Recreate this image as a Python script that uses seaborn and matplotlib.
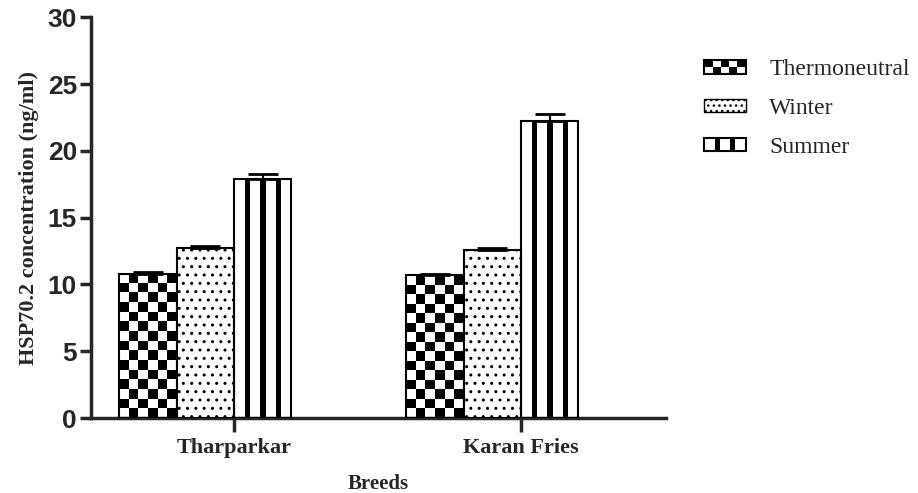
"""HSP70.2 concentration by breed and season, GraphPad-style patterned bars."""

import matplotlib

matplotlib.use("Agg")

import matplotlib.pyplot as plt
import numpy as np
import pandas as pd
import seaborn as sns
from matplotlib.legend_handler import HandlerBase
from matplotlib.patches import Patch, Rectangle

BREEDS = ["Tharparkar", "Karan Fries"]
SEASONS = ["Thermoneutral", "Winter", "Summer"]
THERMONEUTRAL = [10.8, 10.7]
WINTER = [12.7, 12.6]
SUMMER = [17.9, 22.2]
THERMONEUTRAL_SEM = [0.15, 0.12]
WINTER_SEM = [0.15, 0.12]
SUMMER_SEM = [0.35, 0.55]
Y_TICKS = [0, 5, 10, 15, 20, 25, 30]

SERIF = ["Liberation Serif", "DejaVu Serif"]
SANS = ["Liberation Sans", "DejaVu Sans"]

STRIPES = np.array([[0, 0, 1, 0, 0, 1, 0, 0, 1, 0, 0]])
LEGEND_STRIPES = np.array([[0, 0, 1, 0, 0, 1, 0, 0]])


def checker(rows, cols):
    return (np.add.outer(np.arange(rows), np.arange(cols)) % 2).astype(float)


class PatternHandler(HandlerBase):
    def __init__(self, pattern):
        super().__init__()
        self.pattern = pattern

    def create_artists(self, legend, orig_handle, xdescent, ydescent,
                       width, height, fontsize, trans):
        rows, cols = self.pattern.shape
        cw, ch = width / cols, height / rows
        artists = []
        for r in range(rows):
            for c in range(cols):
                if self.pattern[r, c]:
                    artists.append(Rectangle((-xdescent + c * cw, -ydescent + r * ch), cw, ch,
                                             facecolor="black", edgecolor="none", transform=trans))
        artists.append(Rectangle((-xdescent, -ydescent), width, height, facecolor="none",
                                 edgecolor="black", linewidth=1.5, transform=trans))
        return artists


df = pd.DataFrame({
    "breed": BREEDS * 3,
    "season": np.repeat(SEASONS, len(BREEDS)),
    "value": THERMONEUTRAL + WINTER + SUMMER,
})
sems = {"Thermoneutral": THERMONEUTRAL_SEM, "Winter": WINTER_SEM, "Summer": SUMMER_SEM}

sns.set_style("ticks")
fig, ax = plt.subplots(figsize=(9.18, 4.93), dpi=100)
fig.subplots_adjust(left=0.099, right=0.7255, bottom=0.152, top=0.965)

sns.barplot(data=df, x="breed", y="value", hue="season", order=BREEDS, hue_order=SEASONS,
            palette=["white"] * 3, width=0.6, edgecolor="black", linewidth=1.5,
            errorbar=None, legend=False, ax=ax, zorder=3)

for season, container in zip(SEASONS, ax.containers):
    for bar, sem in zip(container, sems[season]):
        x0, w, h = bar.get_x(), bar.get_width(), bar.get_height()
        ax.errorbar(x0 + w / 2, h, yerr=[[0], [sem]], color="black", capsize=10.5,
                    elinewidth=1.5, capthick=2, zorder=4)
        if season == "Thermoneutral":
            pattern = checker(max(1, round(h * 1.41)), 6)
        elif season == "Summer":
            pattern = STRIPES
        else:
            bar.set_hatch("..")
            continue
        im = ax.imshow(pattern, cmap="gray_r", vmin=0, vmax=1, extent=(x0, x0 + w, 0, h),
                       origin="lower", aspect="auto", interpolation="nearest", zorder=2)
        im.set_clip_path(bar)
        bar.set_facecolor("none")

ax.set_xlim(-0.399, 1.605)
ax.set_ylim(0, 30)
ax.set_yticks(Y_TICKS)
ax.set_xticks([i + 0.1 for i in range(len(BREEDS))])
ax.set_xticklabels(BREEDS, family=SERIF, fontweight="bold", fontsize=16)
for lbl in ax.get_yticklabels():
    lbl.set_family(SANS)
    lbl.set_fontweight("bold")
    lbl.set_fontsize(19)

sns.despine(ax=ax)
for side in ("left", "bottom"):
    ax.spines[side].set_linewidth(2.5)
ax.tick_params(axis="y", length=8, width=2.5, pad=2)
ax.tick_params(axis="x", length=10, width=2.5, pad=4)

ax.set_xlabel("Breeds", family=SERIF, fontweight="bold", fontsize=15, labelpad=12)
ax.set_ylabel("HSP70.2 concentration (ng/ml)", family=SERIF, fontweight="bold",
              fontsize=16, labelpad=6)

handles = [
    Patch(facecolor="white", edgecolor="black", label="Thermoneutral"),
    Patch(facecolor="white", edgecolor="black", hatch="...", label="Winter"),
    Patch(facecolor="white", edgecolor="black", label="Summer"),
]
fig.legend(handles=handles, loc="upper left", bbox_to_anchor=(683 / 918, 1 - 38 / 493),
           frameon=False, prop={"family": SERIF, "size": 17}, handlelength=1.75,
           handleheight=0.5, handletextpad=1.0, labelspacing=0.75,
           handler_map={handles[0]: PatternHandler(checker(2, 5)),
                        handles[2]: PatternHandler(LEGEND_STRIPES)})

fig.savefig("out.png", dpi=100)
